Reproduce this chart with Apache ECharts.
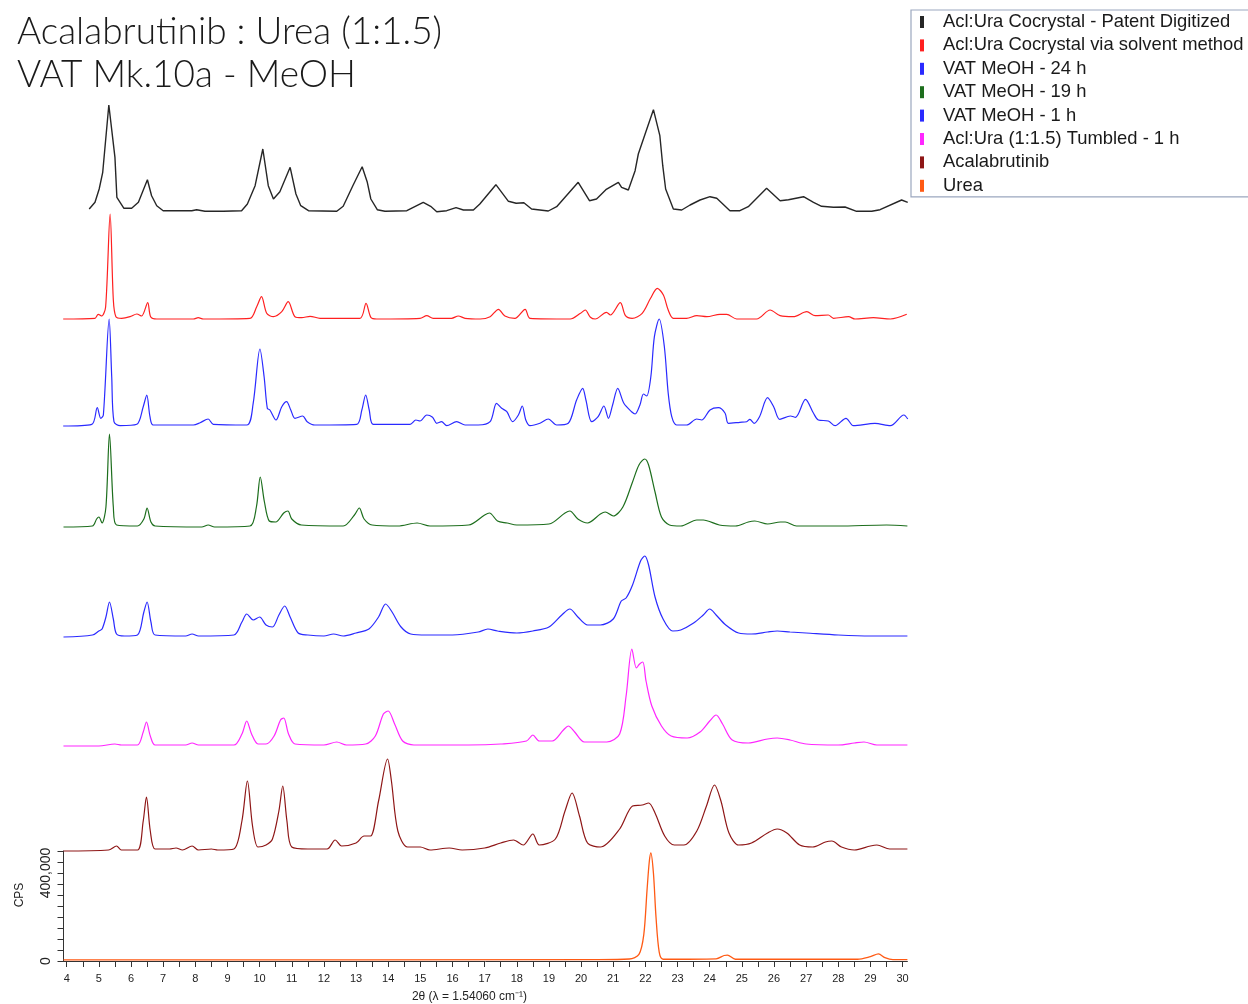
<!DOCTYPE html>
<html>
<head>
<meta charset="utf-8">
<title>Acalabrutinib : Urea (1:1.5) – VAT Mk.10a - MeOH</title>
<script src="https://cdn.jsdelivr.net/npm/echarts@6/dist/echarts.min.js"></script>
<style>
  html, body { margin: 0; padding: 0; background: #ffffff; }
  #chart { width: 1248px; height: 1004px; }
</style>
</head>
<body>
<div id="chart"></div>
<script>
// ---- Diffractogram data: [2θ (deg), intensity] ----
// Stacked patterns use a relative intensity scale; Urea is in CPS.

const seriesNames = [
  'Acl:Ura Cocrystal - Patent Digitized',
  'Acl:Ura Cocrystal via solvent method',
  'VAT MeOH - 24 h',
  'VAT MeOH - 19 h',
  'VAT MeOH - 1 h',
  'Acl:Ura (1:1.5) Tumbled - 1 h',
  'Acalabrutinib',
  'Urea'
];

const patentDigitized = [
  [4.70,2],[4.88,8.7],[5.01,22],[5.12,38.7],[5.31,106],[5.50,53.7],[5.56,13.7],[5.78,2.7],[6.02,2.7],
  [6.23,8.7],[6.51,31.3],[6.64,15.3],[6.80,5.3],[7.00,0.3],[7.89,0.3],[8.04,1.3],[8.30,-0.3],[8.87,-0.3],
  [9.44,0.3],[9.62,7],[9.86,25.3],[10.10,62],[10.27,25.3],[10.43,12],[10.63,19.3],[10.95,43.7],[11.13,17],
  [11.28,5.3],[11.52,0.3],[12.40,-0.3],[12.60,4.7],[12.90,25.3],[13.19,44.3],[13.35,28.7],[13.46,12],
  [13.66,1.3],[13.90,-0.3],[14.58,0.3],[15.09,8.7],[15.32,4.7],[15.51,-0.7],[15.82,0.3],[16.11,3.3],
  [16.34,1],[16.65,1],[16.85,7],[17.35,26.3],[17.74,9.7],[17.98,7.7],[18.22,8.3],[18.46,2],[18.98,0],
  [19.24,4.3],[19.91,28.7],[20.26,10.3],[20.48,12],[20.77,21.3],[21.16,28.7],[21.26,23.7],[21.47,21],
  [21.68,40.3],[21.78,57],[22.01,78.7],[22.25,101.3],[22.45,75.3],[22.54,45.3],[22.63,22],[22.87,2],
  [23.13,1],[23.39,6],[23.70,11],[24.01,14.3],[24.22,12.7],[24.63,0.3],[24.94,0.3],[25.20,4.3],[25.77,22.7],
  [26.19,10.3],[26.45,11.3],[26.92,14.3],[27.23,8.7],[27.48,4.7],[27.85,3.7],[28.21,4],[28.57,-0.3],
  [29.04,-0.3],[29.30,1.3],[29.97,11],[30.16,8.7]
];

const solventMethod = [
  [3.89,0],[4.88,0.7],[4.98,4.7],[5.09,3],[5.21,12],[5.35,105],[5.45,19],[5.53,2.3],[5.71,0.7],[5.97,2.3],
  [6.18,5],[6.33,3],[6.52,16.3],[6.61,2.3],[6.80,0],[7.94,0],[8.09,1.3],[8.25,0],[9.70,0.7],[9.91,12.3],
  [10.06,22.3],[10.22,5.7],[10.43,2.3],[10.69,7.3],[10.89,17.3],[11.10,2.3],[11.31,1.3],[11.57,2.7],
  [11.88,0.7],[13.12,0.7],[13.31,15.7],[13.46,1.7],[13.64,0],[14.99,0.7],[15.20,3.3],[15.40,0.7],
  [15.97,0.7],[16.18,3],[16.39,0.7],[16.86,0],[17.17,2.3],[17.43,9.7],[17.63,3],[17.94,0.7],[18.26,9.7],
  [18.41,0.7],[19.66,0],[19.98,5.7],[20.13,9],[20.29,1.7],[20.44,0],[20.79,6.7],[20.91,4],[21.22,16.3],
  [21.38,3.3],[21.59,0.7],[21.90,5.7],[22.16,20.7],[22.37,30.7],[22.56,24],[22.71,9],[22.87,0.7],
  [23.28,0.7],[23.60,3.3],[23.91,2.3],[24.32,4.7],[24.53,4.7],[24.84,0],[25.46,0],[25.88,9],[26.19,3.3],
  [26.60,2.3],[27.02,7.3],[27.28,3.3],[27.69,4],[27.85,0.7],[28.32,2.3],[28.52,0],[29.09,1.3],[29.62,0],
  [30.13,4.7]
];

const vat24h = [
  [3.89,0],[4.78,1.7],[4.95,18.3],[5.06,7.7],[5.14,11],[5.32,107],[5.40,49.3],[5.47,4.3],[5.66,0.3],
  [6.18,1.7],[6.38,19.3],[6.49,31],[6.59,9.3],[6.69,1],[7.94,1],[8.15,3.3],[8.40,7],[8.56,1.7],[9.60,1],
  [9.80,22.7],[10.01,77],[10.14,49.3],[10.24,17.7],[10.32,16],[10.51,6],[10.69,19.3],[10.84,24.3],
  [10.97,16],[11.10,7.7],[11.34,10],[11.48,4.3],[11.72,1],[13.02,1.7],[13.18,16],[13.30,31],[13.41,16],
  [13.54,1.7],[14.68,1.7],[14.86,6],[14.99,5],[15.20,11],[15.38,8.7],[15.51,2.7],[15.66,4.3],[15.82,0.3],
  [16.13,4.3],[16.39,1],[16.80,1],[17.17,4.3],[17.37,22.7],[17.53,17.7],[17.69,14.3],[17.87,4.3],
  [18.05,11],[18.17,20],[18.28,6],[18.41,0.3],[18.72,2.7],[18.98,7],[19.24,1],[19.60,2.7],[19.86,26],
  [20.05,37.7],[20.15,26],[20.33,4.3],[20.53,9.3],[20.71,20],[20.85,7.7],[20.98,21],[21.14,37.7],
  [21.33,22.7],[21.57,14.3],[21.68,12],[21.83,21],[21.94,32],[22.04,30],[22.17,49.3],[22.28,89.3],
  [22.43,107],[22.59,79.3],[22.71,32.7],[22.82,9.3],[22.97,1],[23.28,1],[23.60,7],[23.75,6],[24.01,16],
  [24.27,18.3],[24.48,12.7],[24.58,2.7],[24.94,3.7],[25.15,4.3],[25.25,6.7],[25.38,2.7],[25.55,9.3],
  [25.80,28.3],[25.99,19.3],[26.18,6.7],[26.51,10],[26.67,8.7],[26.98,26.7],[27.23,12.7],[27.38,6],
  [27.69,5],[27.90,0.3],[28.24,7.7],[28.47,0.3],[29.14,2.7],[29.62,0.3],[30.04,11],[30.16,7]
];

const vat19h = [
  [3.9,0],[4.8,1],[4.93,8],[5.0,10],[5.1,4],[5.22,20],[5.33,93],[5.45,20],[5.55,2],[6.2,1],[6.4,8],
  [6.5,19],[6.62,5],[6.75,1],[8.2,0],[8.4,2],[8.6,0],[9.7,1],[9.9,20],[10.02,50],[10.15,25],[10.3,6],
  [10.5,5],[10.75,14],[10.88,16],[11.0,8],[11.3,2],[12.6,1],[12.95,12],[13.1,19],[13.25,8],[13.5,2],
  [14.3,1],[14.9,4],[15.3,1],[16.5,2],[17.0,12],[17.15,14],[17.4,6],[17.7,4],[18.0,2],[19.0,3],
  [19.5,14],[19.65,16],[19.9,8],[20.2,4],[20.6,13],[20.75,15],[21.0,11],[21.3,20],[21.6,45],[21.8,62],
  [21.98,68],[22.1,62],[22.3,35],[22.5,10],[22.75,2],[23.1,1],[23.6,7],[23.8,7],[24.3,2],[24.8,1],
  [25.2,5],[25.4,6],[25.8,3],[26.2,5],[26.35,5],[26.7,1],[28.0,1],[29.5,2],[30.15,1]
];

const vat1h = [
  [3.9,0],[4.8,2],[5.0,6],[5.1,8],[5.22,20],[5.33,35],[5.45,18],[5.55,3],[5.8,1],[6.2,2],[6.4,25],
  [6.5,35],[6.62,15],[6.75,2],[7.7,1],[7.9,3],[8.1,1],[9.2,2],[9.45,15],[9.6,23],[9.8,17],[10.0,20],
  [10.2,12],[10.4,10],[10.6,22],[10.78,31],[10.95,20],[11.2,4],[11.5,2],[12.0,1],[12.3,3],[12.6,1],
  [13.0,4],[13.4,8],[13.7,20],[13.92,33],[14.12,25],[14.4,10],[14.7,3],[15.2,2],[16.0,2],[16.8,5],
  [17.1,8],[17.4,6],[18.0,4],[18.5,6],[19.0,10],[19.4,22],[19.65,28],[19.9,20],[20.2,12],[20.6,12],
  [21.0,18],[21.25,36],[21.4,39],[21.6,52],[21.85,76],[21.98,81],[22.1,72],[22.3,40],[22.55,18],
  [22.85,6],[23.1,7],[23.5,14],[23.8,22],[24.0,28],[24.2,22],[24.5,12],[24.9,4],[25.3,3],[25.8,5],
  [26.1,6],[26.5,5],[27.0,4],[28.0,2],[29.0,1],[30.15,1]
];

const tumbled1h = [
  [3.9,0],[5.0,0],[5.5,2],[5.7,1],[6.2,1],[6.38,14],[6.48,24],[6.6,10],[6.75,1],[7.7,1],[7.9,3],[8.1,1],
  [9.2,1],[9.45,12],[9.6,25],[9.75,12],[9.95,2],[10.2,2],[10.45,10],[10.65,26],[10.75,28],[10.9,12],
  [11.1,2],[12.0,1],[12.4,4],[12.7,1],[13.3,2],[13.6,10],[13.85,32],[14.0,35],[14.2,22],[14.45,5],
  [14.8,1],[16.5,1],[17.5,2],[18.3,5],[18.5,11],[18.7,5],[19.1,5],[19.45,16],[19.6,20],[19.8,14],
  [20.1,4],[20.8,4],[21.2,12],[21.4,50],[21.58,97],[21.72,78],[21.82,82],[21.92,84],[22.02,65],[22.2,40],
  [22.5,20],[22.8,10],[23.3,8],[23.7,14],[24.0,25],[24.2,31],[24.4,22],[24.7,6],[25.2,3],[25.8,7],
  [26.1,8],[26.5,6],[27.0,2],[28.0,1],[28.5,3],[28.8,4],[29.2,1],[30.15,1]
];

const acalabrutinib = [
  [3.9,0],[5.3,1],[5.55,5],[5.7,1],[6.2,1],[6.38,30],[6.48,54],[6.6,20],[6.75,2],[7.2,2],[7.4,3],
  [7.6,1],[7.9,5],[8.1,1],[8.5,2],[8.7,1],[9.2,2],[9.45,30],[9.62,70],[9.78,25],[9.95,4],[10.2,6],
  [10.4,12],[10.6,40],[10.72,65],[10.85,30],[11.0,4],[11.5,2],[12.1,2],[12.35,11],[12.55,5],[13.0,8],
  [13.25,15],[13.45,15],[13.7,50],[13.98,92],[14.1,70],[14.3,20],[14.6,4],[15.0,4],[15.3,1],[15.9,3],
  [16.3,1],[17.0,3],[17.5,8],[17.9,11],[18.2,6],[18.5,17],[18.7,6],[19.2,12],[19.5,40],[19.72,58],
  [19.95,35],[20.2,8],[20.6,4],[21.2,22],[21.6,45],[21.9,46],[22.1,48],[22.3,38],[22.6,15],[22.9,6],
  [23.2,6],[23.6,20],[23.9,45],[24.15,66],[24.35,50],[24.6,18],[24.9,6],[25.3,8],[25.8,18],[26.1,22],
  [26.4,18],[26.8,6],[27.2,4],[27.6,9],[27.8,10],[28.1,4],[28.5,1],[29.0,5],[29.2,6],[29.6,2],[30.15,2]
];

const urea = [
  [3.9,5000],[20.5,6000],[21.5,9000],[21.8,30000],[21.95,120000],[22.05,320000],[22.12,450000],
  [22.17,491000],[22.25,400000],[22.33,200000],[22.43,40000],[22.55,8000],[24.2,10000],[24.45,25000],
  [24.55,27000],[24.8,8000],[28.6,8000],[29.0,20000],[29.25,32000],[29.45,15000],[29.7,6000],[30.15,6000]
];

// Axis tick labels
const xTickLabels = [4,5,6,7,8,9,10,11,12,13,14,15,16,17,18,19,20,21,22,23,24,25,26,27,28,29,30];
const yTickLabels = [0, 400000];

// ---- Layout ----
const W = 1248;
const plotLeft = 63.5, plotRight = W - 907.4;
const thetaMin = 3.9, thetaMax = 30.15;
const relRange = 120;             // relative-intensity span of each stacked panel (px tall)
// pixel rows where each stacked pattern's zero line sits (top → bottom)
const stackBaselines = [211, 319, 426, 527, 637, 746, 851];
const colors = ['#262626', '#ff2020', '#2a2aff', '#1d6e1d', '#2a2aff', '#ff26ff', '#8e1616', '#ff5a14'];
const stacked = [patentDigitized, solventMethod, vat24h, vat19h, vat1h, tumbled1h, acalabrutinib];
const smoothing = [false, 0.3, 0.3, 0.3, 0.3, 0.3, 0.3];

const grids = [], xAxes = [], yAxes = [], series = [];

// Bottom panel: Urea with visible axes (CPS)
grids.push({ left: plotLeft, right: plotRight, top: 851, bottom: 43 });
const xTicks = [];
xTickLabels.forEach(v => { xTicks.push(v); if (v < 30) xTicks.push(v + 0.5); });
xAxes.push({
  type: 'value', gridIndex: 0, min: thetaMin, max: thetaMax,
  name: '2θ (λ = 1.54060 cm⁻¹)', nameLocation: 'middle', nameGap: 30,
  nameTextStyle: { fontSize: 12, color: '#222', fontFamily: 'Liberation Sans, Arial', padding: [0, 32, 0, 0] },
  axisLine: { show: true, onZero: false, lineStyle: { color: '#333', width: 1 } },
  axisTick: { show: true, length: 6, customValues: xTicks, lineStyle: { color: '#333' } },
  axisLabel: { customValues: xTickLabels, margin: 12, fontSize: 11, color: '#222', fontFamily: 'Liberation Sans, Arial' },
  splitLine: { show: false }
});
yAxes.push({
  type: 'value', gridIndex: 0, min: 0, max: 500000, interval: 50000,
  name: 'CPS', nameLocation: 'middle', nameGap: 38, nameRotate: 90,
  nameTextStyle: { fontSize: 12, color: '#222', fontFamily: 'Liberation Sans, Arial', padding: [0, 0, 0, 22] },
  axisLine: { show: true, lineStyle: { color: '#333', width: 1 } },
  axisTick: { show: true, length: 6, lineStyle: { color: '#333' } },
  axisLabel: {
    rotate: 90, margin: 10, fontSize: 14, color: '#222', fontFamily: 'Liberation Sans, Arial',
    formatter: v => yTickLabels.indexOf(v) >= 0 ? v.toLocaleString('en-US') : ''
  },
  splitLine: { show: false }
});

// Stacked panels (hidden axes)
stackBaselines.forEach((b, i) => {
  const gi = i + 1;
  grids.push({ left: plotLeft, right: plotRight, top: b - relRange, height: relRange });
  xAxes.push({ type: 'value', gridIndex: gi, min: thetaMin, max: thetaMax, show: false });
  yAxes.push({ type: 'value', gridIndex: gi, min: 0, max: relRange, show: false });
});

stacked.forEach((data, i) => {
  series.push({
    name: seriesNames[i], type: 'line', xAxisIndex: i + 1, yAxisIndex: i + 1,
    data: data, symbol: 'none', smooth: smoothing[i], clip: false,
    color: colors[i], lineStyle: { width: i === 0 ? 1.4 : 1.2, color: colors[i] }
  });
});
series.push({
  name: seriesNames[7], type: 'line', xAxisIndex: 0, yAxisIndex: 0,
  data: urea, symbol: 'none', smooth: 0.3, clip: false,
  color: colors[7], lineStyle: { width: 1.3, color: colors[7] }
});

const chart = echarts.init(document.getElementById('chart'), null, { renderer: 'canvas' });
chart.setOption({
  animation: false,
  backgroundColor: '#ffffff',
  title: {
    text: 'Acalabrutinib : Urea (1:1.5)\nVAT Mk.10a - MeOH',
    left: 12, top: 6,
    textStyle: { fontFamily: 'Lato', fontWeight: 300, fontSize: 37, lineHeight: 43, color: '#1a1a1a' }
  },
  legend: {
    data: seriesNames, orient: 'vertical', left: 911, top: 10,
    icon: 'rect', itemWidth: 4, itemHeight: 12, itemGap: 5.4,
    padding: [3, 14, 2, 9],
    backgroundColor: '#ffffff', borderColor: '#9ba7bf', borderWidth: 1.2,
    selectedMode: false,
    textStyle: { fontSize: 18.4, lineHeight: 18, color: '#1a1a1a', fontFamily: 'Liberation Sans, Arial', padding: [0, 0, 0, 14] }
  },
  grid: grids, xAxis: xAxes, yAxis: yAxes, series: series
});
</script>
</body>
</html>
